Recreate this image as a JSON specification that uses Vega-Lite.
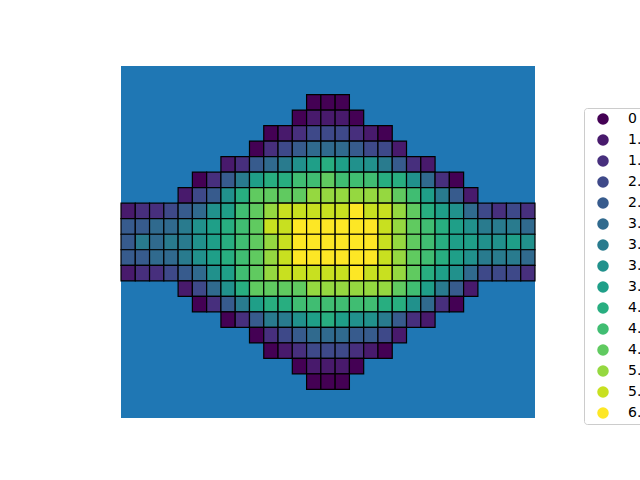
{
"$schema":"https://vega.github.io/schema/vega-lite/v6.json",
"autosize":{"type":"none"},
"width":414,"height":352,
"padding":{"left":121,"top":66,"right":105,"bottom":62},
"background":"white",
"view":{"fill":"#1f77b4","stroke":null},
"data":{"values":[
{"r":1,"c":13,"z":0},{"r":1,"c":14,"z":0},{"r":1,"c":15,"z":0},
{"r":2,"c":12,"z":0},{"r":2,"c":13,"z":1.2},{"r":2,"c":14,"z":1.2},{"r":2,"c":15,"z":1.2},{"r":2,"c":16,"z":0},
{"r":3,"c":10,"z":0},{"r":3,"c":11,"z":1.2},{"r":3,"c":12,"z":1.7},{"r":3,"c":13,"z":2.2},{"r":3,"c":14,"z":2.2},{"r":3,"c":15,"z":2.2},{"r":3,"c":16,"z":1.7},{"r":3,"c":17,"z":1.2},{"r":3,"c":18,"z":0},
{"r":4,"c":9,"z":0},{"r":4,"c":10,"z":1.7},{"r":4,"c":11,"z":2.2},{"r":4,"c":12,"z":2.6},{"r":4,"c":13,"z":3.1},{"r":4,"c":14,"z":3.1},{"r":4,"c":15,"z":3.1},{"r":4,"c":16,"z":2.6},{"r":4,"c":17,"z":2.2},{"r":4,"c":18,"z":2.2},{"r":4,"c":19,"z":1.2},
{"r":5,"c":7,"z":1.2},{"r":5,"c":8,"z":1.7},{"r":5,"c":9,"z":2.6},{"r":5,"c":10,"z":3.1},{"r":5,"c":11,"z":3.4},{"r":5,"c":12,"z":3.6},{"r":5,"c":13,"z":3.9},{"r":5,"c":14,"z":4.2},{"r":5,"c":15,"z":3.9},{"r":5,"c":16,"z":3.6},{"r":5,"c":17,"z":3.6},{"r":5,"c":18,"z":3.4},{"r":5,"c":19,"z":2.6},{"r":5,"c":20,"z":1.7},{"r":5,"c":21,"z":1.2},
{"r":6,"c":5,"z":0},{"r":6,"c":6,"z":1.7},{"r":6,"c":7,"z":2.6},{"r":6,"c":8,"z":3.4},{"r":6,"c":9,"z":3.9},{"r":6,"c":10,"z":4.2},{"r":6,"c":11,"z":4.2},{"r":6,"c":12,"z":4.5},{"r":6,"c":13,"z":4.5},{"r":6,"c":14,"z":4.8},{"r":6,"c":15,"z":4.5},{"r":6,"c":16,"z":4.5},{"r":6,"c":17,"z":4.5},{"r":6,"c":18,"z":4.2},{"r":6,"c":19,"z":4.2},{"r":6,"c":20,"z":3.6},{"r":6,"c":21,"z":3.1},{"r":6,"c":22,"z":1.7},{"r":6,"c":23,"z":0},
{"r":7,"c":4,"z":1.2},{"r":7,"c":5,"z":2.2},{"r":7,"c":6,"z":2.6},{"r":7,"c":7,"z":3.6},{"r":7,"c":8,"z":4.2},{"r":7,"c":9,"z":4.8},{"r":7,"c":10,"z":4.8},{"r":7,"c":11,"z":4.8},{"r":7,"c":12,"z":4.8},{"r":7,"c":13,"z":5.2},{"r":7,"c":14,"z":5.2},{"r":7,"c":15,"z":5.2},{"r":7,"c":16,"z":5.2},{"r":7,"c":17,"z":5.2},{"r":7,"c":18,"z":5.2},{"r":7,"c":19,"z":4.8},{"r":7,"c":20,"z":4.5},{"r":7,"c":21,"z":3.9},{"r":7,"c":22,"z":3.4},{"r":7,"c":23,"z":2.6},{"r":7,"c":24,"z":1.2},
{"r":8,"c":0,"z":1.2},{"r":8,"c":1,"z":1.7},{"r":8,"c":2,"z":1.7},{"r":8,"c":3,"z":2.2},{"r":8,"c":4,"z":2.6},{"r":8,"c":5,"z":3.1},{"r":8,"c":6,"z":3.6},{"r":8,"c":7,"z":3.9},{"r":8,"c":8,"z":4.5},{"r":8,"c":9,"z":4.8},{"r":8,"c":10,"z":5.2},{"r":8,"c":11,"z":5.6},{"r":8,"c":12,"z":5.6},{"r":8,"c":13,"z":5.6},{"r":8,"c":14,"z":5.6},{"r":8,"c":15,"z":5.6},{"r":8,"c":16,"z":6.1},{"r":8,"c":17,"z":5.6},{"r":8,"c":18,"z":5.6},{"r":8,"c":19,"z":5.2},{"r":8,"c":20,"z":4.8},{"r":8,"c":21,"z":4.2},{"r":8,"c":22,"z":3.9},{"r":8,"c":23,"z":3.6},{"r":8,"c":24,"z":3.1},{"r":8,"c":25,"z":2.2},{"r":8,"c":26,"z":1.7},{"r":8,"c":27,"z":2.2},{"r":8,"c":28,"z":1.7},
{"r":9,"c":0,"z":2.6},{"r":9,"c":1,"z":2.6},{"r":9,"c":2,"z":3.1},{"r":9,"c":3,"z":3.1},{"r":9,"c":4,"z":3.4},{"r":9,"c":5,"z":3.6},{"r":9,"c":6,"z":3.9},{"r":9,"c":7,"z":4.2},{"r":9,"c":8,"z":4.5},{"r":9,"c":9,"z":4.8},{"r":9,"c":10,"z":5.6},{"r":9,"c":11,"z":5.6},{"r":9,"c":12,"z":6.1},{"r":9,"c":13,"z":6.1},{"r":9,"c":14,"z":6.1},{"r":9,"c":15,"z":6.1},{"r":9,"c":16,"z":6.1},{"r":9,"c":17,"z":6.1},{"r":9,"c":18,"z":5.6},{"r":9,"c":19,"z":5.2},{"r":9,"c":20,"z":4.8},{"r":9,"c":21,"z":4.5},{"r":9,"c":22,"z":4.2},{"r":9,"c":23,"z":3.9},{"r":9,"c":24,"z":3.6},{"r":9,"c":25,"z":3.4},{"r":9,"c":26,"z":3.4},{"r":9,"c":27,"z":3.4},{"r":9,"c":28,"z":3.1},
{"r":10,"c":0,"z":2.6},{"r":10,"c":1,"z":3.4},{"r":10,"c":2,"z":3.1},{"r":10,"c":3,"z":3.4},{"r":10,"c":4,"z":3.4},{"r":10,"c":5,"z":3.6},{"r":10,"c":6,"z":3.9},{"r":10,"c":7,"z":4.2},{"r":10,"c":8,"z":4.5},{"r":10,"c":9,"z":4.8},{"r":10,"c":10,"z":5.2},{"r":10,"c":11,"z":5.6},{"r":10,"c":12,"z":6.1},{"r":10,"c":13,"z":6.1},{"r":10,"c":14,"z":6.1},{"r":10,"c":15,"z":6.1},{"r":10,"c":16,"z":6.1},{"r":10,"c":17,"z":6.1},{"r":10,"c":18,"z":5.6},{"r":10,"c":19,"z":5.2},{"r":10,"c":20,"z":4.8},{"r":10,"c":21,"z":4.5},{"r":10,"c":22,"z":4.2},{"r":10,"c":23,"z":3.9},{"r":10,"c":24,"z":3.9},{"r":10,"c":25,"z":3.6},{"r":10,"c":26,"z":3.6},{"r":10,"c":27,"z":3.9},{"r":10,"c":28,"z":3.6},
{"r":11,"c":0,"z":2.6},{"r":11,"c":1,"z":2.6},{"r":11,"c":2,"z":3.1},{"r":11,"c":3,"z":3.1},{"r":11,"c":4,"z":3.4},{"r":11,"c":5,"z":3.6},{"r":11,"c":6,"z":3.9},{"r":11,"c":7,"z":4.2},{"r":11,"c":8,"z":4.5},{"r":11,"c":9,"z":4.8},{"r":11,"c":10,"z":5.2},{"r":11,"c":11,"z":5.6},{"r":11,"c":12,"z":6.1},{"r":11,"c":13,"z":6.1},{"r":11,"c":14,"z":6.1},{"r":11,"c":15,"z":6.1},{"r":11,"c":16,"z":6.1},{"r":11,"c":17,"z":6.1},{"r":11,"c":18,"z":5.6},{"r":11,"c":19,"z":5.2},{"r":11,"c":20,"z":4.8},{"r":11,"c":21,"z":4.5},{"r":11,"c":22,"z":4.2},{"r":11,"c":23,"z":3.9},{"r":11,"c":24,"z":3.6},{"r":11,"c":25,"z":3.4},{"r":11,"c":26,"z":3.4},{"r":11,"c":27,"z":3.4},{"r":11,"c":28,"z":3.1},
{"r":12,"c":0,"z":1.2},{"r":12,"c":1,"z":1.7},{"r":12,"c":2,"z":1.7},{"r":12,"c":3,"z":2.2},{"r":12,"c":4,"z":2.6},{"r":12,"c":5,"z":3.1},{"r":12,"c":6,"z":3.6},{"r":12,"c":7,"z":3.9},{"r":12,"c":8,"z":4.5},{"r":12,"c":9,"z":4.8},{"r":12,"c":10,"z":5.2},{"r":12,"c":11,"z":5.6},{"r":12,"c":12,"z":5.6},{"r":12,"c":13,"z":5.6},{"r":12,"c":14,"z":5.6},{"r":12,"c":15,"z":5.6},{"r":12,"c":16,"z":6.1},{"r":12,"c":17,"z":5.6},{"r":12,"c":18,"z":5.6},{"r":12,"c":19,"z":5.2},{"r":12,"c":20,"z":4.8},{"r":12,"c":21,"z":4.2},{"r":12,"c":22,"z":3.9},{"r":12,"c":23,"z":3.6},{"r":12,"c":24,"z":3.1},{"r":12,"c":25,"z":2.2},{"r":12,"c":26,"z":2.2},{"r":12,"c":27,"z":2.2},{"r":12,"c":28,"z":1.7},
{"r":13,"c":4,"z":1.2},{"r":13,"c":5,"z":2.2},{"r":13,"c":6,"z":3.1},{"r":13,"c":7,"z":3.6},{"r":13,"c":8,"z":4.2},{"r":13,"c":9,"z":4.8},{"r":13,"c":10,"z":4.8},{"r":13,"c":11,"z":4.8},{"r":13,"c":12,"z":4.8},{"r":13,"c":13,"z":5.2},{"r":13,"c":14,"z":5.2},{"r":13,"c":15,"z":5.2},{"r":13,"c":16,"z":5.2},{"r":13,"c":17,"z":5.2},{"r":13,"c":18,"z":5.2},{"r":13,"c":19,"z":4.8},{"r":13,"c":20,"z":4.5},{"r":13,"c":21,"z":3.9},{"r":13,"c":22,"z":3.4},{"r":13,"c":23,"z":2.6},{"r":13,"c":24,"z":1.2},
{"r":14,"c":5,"z":0},{"r":14,"c":6,"z":1.7},{"r":14,"c":7,"z":2.6},{"r":14,"c":8,"z":3.4},{"r":14,"c":9,"z":3.9},{"r":14,"c":10,"z":4.2},{"r":14,"c":11,"z":4.2},{"r":14,"c":12,"z":4.5},{"r":14,"c":13,"z":4.5},{"r":14,"c":14,"z":4.5},{"r":14,"c":15,"z":4.5},{"r":14,"c":16,"z":4.5},{"r":14,"c":17,"z":4.5},{"r":14,"c":18,"z":4.2},{"r":14,"c":19,"z":4.2},{"r":14,"c":20,"z":3.6},{"r":14,"c":21,"z":3.1},{"r":14,"c":22,"z":1.7},{"r":14,"c":23,"z":0},
{"r":15,"c":7,"z":0},{"r":15,"c":8,"z":1.7},{"r":15,"c":9,"z":2.6},{"r":15,"c":10,"z":3.4},{"r":15,"c":11,"z":3.4},{"r":15,"c":12,"z":3.6},{"r":15,"c":13,"z":3.9},{"r":15,"c":14,"z":4.2},{"r":15,"c":15,"z":3.9},{"r":15,"c":16,"z":3.6},{"r":15,"c":17,"z":3.6},{"r":15,"c":18,"z":3.4},{"r":15,"c":19,"z":2.6},{"r":15,"c":20,"z":1.7},{"r":15,"c":21,"z":1.2},
{"r":16,"c":9,"z":0},{"r":16,"c":10,"z":1.7},{"r":16,"c":11,"z":2.2},{"r":16,"c":12,"z":2.6},{"r":16,"c":13,"z":3.1},{"r":16,"c":14,"z":3.1},{"r":16,"c":15,"z":3.1},{"r":16,"c":16,"z":2.6},{"r":16,"c":17,"z":2.6},{"r":16,"c":18,"z":2.2},{"r":16,"c":19,"z":1.2},
{"r":17,"c":10,"z":0},{"r":17,"c":11,"z":1.2},{"r":17,"c":12,"z":1.7},{"r":17,"c":13,"z":2.2},{"r":17,"c":14,"z":2.2},{"r":17,"c":15,"z":2.2},{"r":17,"c":16,"z":1.7},{"r":17,"c":17,"z":1.2},{"r":17,"c":18,"z":0},
{"r":18,"c":12,"z":0},{"r":18,"c":13,"z":1.2},{"r":18,"c":14,"z":1.2},{"r":18,"c":15,"z":1.2},{"r":18,"c":16,"z":0},
{"r":19,"c":13,"z":0},{"r":19,"c":14,"z":0},{"r":19,"c":15,"z":0}
]},
"mark":{"type":"rect","stroke":"black","strokeWidth":1.2},
"encoding":{
"x":{"field":"c","type":"ordinal","axis":null,"scale":{"domain":[0,1,2,3,4,5,6,7,8,9,10,11,12,13,14,15,16,17,18,19,20,21,22,23,24,25,26,27,28],"paddingInner":0,"paddingOuter":0}},
"y":{"field":"r","type":"ordinal","axis":null,"scale":{"domain":[0,1,2,3,4,5,6,7,8,9,10,11,12,13,14,15,16,17,18,19,20],"paddingInner":0,"paddingOuter":0.84}},
"color":{"field":"z","type":"ordinal",
"scale":{"domain":[0,1.2,1.7,2.2,2.6,3.1,3.4,3.6,3.9,4.2,4.5,4.8,5.2,5.6,6.1],
"range":["#440154","#481a6c","#472f7d","#3e4989","#375b8d","#306a8e","#297b8e","#21918c","#1f9f88","#28ae80","#40bd72","#60ca60","#95d840","#c8e020","#fde725"]},
"legend":{"title":null,"orient":"none","legendX":463,"legendY":42,"symbolType":"circle","symbolSize":133,"symbolStrokeWidth":0,"symbolOpacity":1,"symbolOffset":8,"padding":4,"rowPadding":7,"labelOffset":18,"labelFont":"DejaVu Sans","labelFontSize":14,"labelColor":"black","strokeColor":"#cccccc","fillColor":"white","cornerRadius":3}}
}
}
